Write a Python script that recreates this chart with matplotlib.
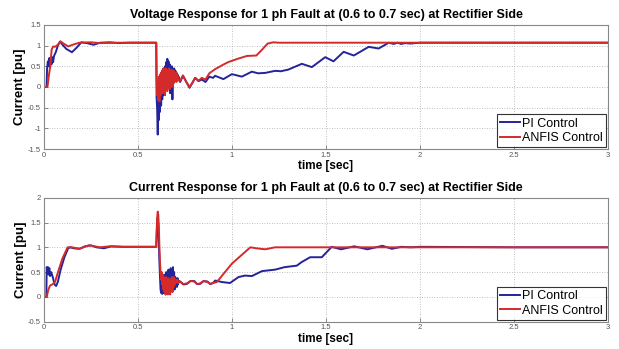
import matplotlib
matplotlib.use("Agg")
import matplotlib.pyplot as plt

plt.rcParams['font.family'] = ['Liberation Sans', 'DejaVu Sans']

# Shared sample times through the fault window (0.600 .. 0.720 s)
fault_t = [0.600, 0.603, 0.606, 0.609, 0.612, 0.615, 0.618, 0.621, 0.624, 0.627,
           0.630, 0.633, 0.636, 0.639, 0.642, 0.645, 0.648, 0.651, 0.654, 0.657,
           0.660, 0.663, 0.666, 0.669, 0.672, 0.675, 0.678, 0.681, 0.684, 0.687,
           0.690, 0.693, 0.696, 0.699, 0.702, 0.705, 0.708, 0.711, 0.714, 0.717,
           0.720]

# ---------------- Voltage response ----------------
v_pi_pre_t = [0, 0.015, 0.018, 0.022, 0.026, 0.030, 0.034, 0.038, 0.042, 0.046,
              0.050, 0.055, 0.065, 0.075, 0.087, 0.100, 0.120, 0.150, 0.175, 0.200,
              0.230, 0.265, 0.300, 0.350, 0.400, 0.450, 0.500, 0.550, 0.598]
v_pi_pre = [0, 0, 0.45, 0.62, 0.50, 0.70, 0.48, 0.68, 0.55, 0.72,
            0.60, 0.75, 0.85, 1.00, 1.10, 1.02, 0.92, 0.84, 0.95, 1.08,
            1.06, 1.02, 1.07, 1.08, 1.06, 1.07, 1.07, 1.07, 1.07]
v_pi_fault = [-0.25, -0.55, -1.15, -0.35, -0.80, -0.20, -0.60, 0.00, -0.45, 0.20,
              -0.30, 0.35, -0.20, 0.45, -0.10, 0.50, 0.00, 0.60, -0.05, 0.68,
              0.10, 0.62, 0.00, 0.55, -0.15, 0.45, 0.05, 0.50, -0.30, 0.40,
              0.10, 0.45, 0.15, 0.40, 0.20, 0.35, 0.15, 0.30, 0.20, 0.25,
              0.18]
v_pi_post_t = [0.725, 0.740, 0.758, 0.775, 0.790, 0.805, 0.823, 0.840, 0.860, 0.880,
               0.900, 0.911, 0.955, 1.000, 1.053, 1.106, 1.140, 1.177, 1.230, 1.260,
               1.300, 1.372, 1.425, 1.496, 1.540, 1.594, 1.648, 1.727, 1.780, 1.834,
               1.860, 1.880, 1.900, 1.920, 1.950, 2.000, 2.500, 3.000]
v_pi_post = [0.12, 0.27, 0.12, -0.02, 0.10, 0.22, 0.14, 0.18, 0.12, 0.25,
             0.22, 0.27, 0.19, 0.31, 0.25, 0.37, 0.33, 0.34, 0.39, 0.38,
             0.42, 0.56, 0.48, 0.72, 0.62, 0.85, 0.76, 0.97, 0.93, 1.07,
             1.04, 1.07, 1.04, 1.06, 1.05, 1.07, 1.07, 1.07]

v_an_pre_t = [0, 0.020, 0.028, 0.035, 0.042, 0.050, 0.060, 0.075, 0.090, 0.105,
              0.130, 0.160, 0.190, 0.250, 0.300, 0.400, 0.500, 0.598]
v_an_pre = [0, 0, 0.30, 0.50, 0.90, 0.98, 0.97, 1.02, 1.10, 1.05,
            0.98, 1.03, 1.07, 1.08, 1.06, 1.07, 1.07, 1.07]
v_an_fault = [0.20, -0.20, 0.10, -0.30, 0.25, -0.35, 0.30, -0.20, 0.35, -0.10,
              0.40, -0.15, 0.45, -0.05, 0.40, -0.20, 0.45, 0.00, 0.42, -0.10,
              0.40, 0.05, 0.45, -0.05, 0.38, 0.10, 0.42, 0.00, 0.35, 0.05,
              0.40, 0.10, 0.30, 0.15, 0.35, 0.12, 0.30, 0.18, 0.25, 0.20,
              0.15]
v_an_post_t = [0.725, 0.740, 0.758, 0.775, 0.790, 0.805, 0.823, 0.840, 0.860, 0.880,
               0.911, 0.950, 0.980, 1.030, 1.080, 1.130, 1.160, 1.190, 1.220, 1.250,
               1.500, 2.000, 2.500, 3.000]
v_an_post = [0.15, 0.28, 0.12, 0.00, 0.10, 0.22, 0.15, 0.22, 0.18, 0.33,
             0.43, 0.53, 0.60, 0.68, 0.75, 0.76, 0.90, 1.05, 1.08, 1.07,
             1.07, 1.07, 1.07, 1.07]

# ---------------- Current response ----------------
c_pi_pre_t = [0, 0.014, 0.016, 0.020, 0.023, 0.026, 0.030, 0.034, 0.040, 0.048,
              0.058, 0.066, 0.075, 0.090, 0.110, 0.130, 0.140, 0.160, 0.190, 0.220,
              0.250, 0.280, 0.320, 0.360, 0.420, 0.500, 0.550, 0.598]
c_pi_pre = [0, 0, 0.60, 0.50, 0.60, 0.45, 0.58, 0.42, 0.50, 0.40,
            0.25, 0.22, 0.30, 0.55, 0.80, 0.98, 1.00, 0.98, 0.97, 1.02,
            1.04, 1.00, 0.98, 1.02, 1.01, 1.01, 1.01, 1.01]
c_pi_fault = [1.20, 1.50, 1.60, 1.45, 1.10, 0.70, 0.40, 0.15, 0.08, 0.30,
              0.06, 0.35, 0.08, 0.40, 0.10, 0.45, 0.05, 0.50, 0.12, 0.48,
              0.08, 0.55, 0.15, 0.50, 0.10, 0.58, 0.20, 0.45, 0.10, 0.60,
              0.25, 0.50, 0.15, 0.40, 0.25, 0.35, 0.20, 0.38, 0.25, 0.33,
              0.30]
c_pi_post_t = [0.725, 0.742, 0.760, 0.780, 0.800, 0.815, 0.830, 0.850, 0.870, 0.885,
               0.900, 0.911, 0.947, 0.990, 1.035, 1.070, 1.106, 1.160, 1.230, 1.280,
               1.345, 1.370, 1.416, 1.478, 1.523, 1.530, 1.580, 1.650, 1.720, 1.800,
               1.850, 1.900, 1.950, 2.000, 2.500, 3.000]
c_pi_post = [0.31, 0.25, 0.26, 0.32, 0.32, 0.26, 0.26, 0.32, 0.31, 0.26,
             0.28, 0.33, 0.30, 0.28, 0.40, 0.43, 0.42, 0.52, 0.55, 0.60,
             0.63, 0.70, 0.80, 0.80, 0.98, 1.01, 0.96, 1.02, 0.96, 1.03,
             0.97, 1.01, 1.00, 1.01, 1.00, 1.00]

c_an_pre_t = [0, 0.016, 0.025, 0.034, 0.045, 0.060, 0.080, 0.100, 0.127, 0.150,
              0.190, 0.240, 0.300, 0.350, 0.420, 0.500, 0.598]
c_an_pre = [0, 0, 0.15, 0.23, 0.25, 0.30, 0.55, 0.78, 1.00, 1.00,
            0.97, 1.04, 1.00, 1.02, 1.01, 1.01, 1.01]
c_an_fault = [1.30, 1.60, 1.72, 1.65, 1.40, 1.00, 0.70, 0.50, 0.35, 0.50,
              0.25, 0.45, 0.15, 0.40, 0.10, 0.35, 0.05, 0.40, 0.12, 0.30,
              0.05, 0.38, 0.10, 0.30, 0.05, 0.35, 0.15, 0.40, 0.10, 0.35,
              0.20, 0.40, 0.25, 0.35, 0.28, 0.33, 0.30, 0.35, 0.28, 0.32,
              0.31]
c_an_post_t = [0.725, 0.742, 0.760, 0.780, 0.800, 0.815, 0.830, 0.850, 0.870, 0.885,
               0.900, 0.920, 1.000, 1.098, 1.130, 1.177, 1.230, 1.500, 2.000, 2.500,
               3.000]
c_an_post = [0.31, 0.26, 0.27, 0.32, 0.31, 0.26, 0.27, 0.32, 0.30, 0.26,
             0.28, 0.30, 0.67, 1.00, 0.98, 0.96, 1.00, 1.00, 1.00, 1.00,
             1.00]

titles = ["Voltage Response for 1 ph Fault at (0.6 to 0.7 sec) at Rectifier Side",
          "Current Response for 1 ph Fault at (0.6 to 0.7 sec) at Rectifier Side"]
x_ticks = [0, 0.5, 1, 1.5, 2, 2.5, 3]
x_tick_labels = ["0", "0.5", "1", "1.5", "2", "2.5", "3"]
v_ticks = [-1.5, -1, -0.5, 0, 0.5, 1, 1.5]
v_tick_labels = ["-1.5", "-1", "-0.5", "0", "0.5", "1", "1.5"]
c_ticks = [-0.5, 0, 0.5, 1, 1.5, 2]
c_tick_labels = ["-0.5", "0", "0.5", "1", "1.5", "2"]
legend_labels = ["PI Control", "ANFIS Control"]

PI_COLOR = "#24249a"
AN_COLOR = "#d42a2a"


def series(pre_t, pre_v, fault_v, post_t, post_v):
    return pre_t + fault_t + post_t, pre_v + fault_v + post_v


fig = plt.figure(figsize=(6.19, 3.49), dpi=100)
ax1 = fig.add_axes([0.0706, 0.573, 0.912, 0.3556])
ax2 = fig.add_axes([0.0706, 0.0782, 0.912, 0.3553])

panels = [
    (ax1, series(v_pi_pre_t, v_pi_pre, v_pi_fault, v_pi_post_t, v_pi_post),
     series(v_an_pre_t, v_an_pre, v_an_fault, v_an_post_t, v_an_post),
     (-1.5, 1.5), v_ticks, v_tick_labels, titles[0]),
    (ax2, series(c_pi_pre_t, c_pi_pre, c_pi_fault, c_pi_post_t, c_pi_post),
     series(c_an_pre_t, c_an_pre, c_an_fault, c_an_post_t, c_an_post),
     (-0.5, 2.0), c_ticks, c_tick_labels, titles[1]),
]

for ax, (tp, vp), (ta, va), ylim, yt, ytl, title in panels:
    ax.plot(tp, vp, color=PI_COLOR, lw=1.4, label=legend_labels[0])
    ax.plot(ta, va, color=AN_COLOR, lw=1.4, label=legend_labels[1])
    ax.set_xlim(0, 3)
    ax.set_ylim(*ylim)
    ax.set_xticks(x_ticks)
    ax.set_xticklabels(x_tick_labels)
    ax.set_yticks(yt)
    ax.set_yticklabels(ytl)
    ax.tick_params(direction="in", length=3, width=0.6, labelsize=5.5,
                   labelcolor="#555555", color="#777777", pad=2)
    ax.grid(True, linestyle=(0, (1, 2)), color="#aaaaaa", lw=0.6)
    for sp in ax.spines.values():
        sp.set_color("#888888")
        sp.set_linewidth(0.8)
    ax.set_title(title, fontsize=9, fontweight="bold", pad=5)
    ax.set_xlabel("time [sec]", fontsize=8.5, fontweight="bold", labelpad=1)
    ax.set_ylabel("Current [pu]", fontsize=9.5, fontweight="bold", labelpad=1)
    leg = ax.legend(loc="lower right", fontsize=9, frameon=True, fancybox=False,
                    handlelength=1.6, handletextpad=0.2, borderpad=0.25,
                    labelspacing=0.2, borderaxespad=0.15)
    leg.get_frame().set_edgecolor("black")
    leg.get_frame().set_linewidth(0.8)

fig.savefig("out.png", dpi=100, facecolor="white")
